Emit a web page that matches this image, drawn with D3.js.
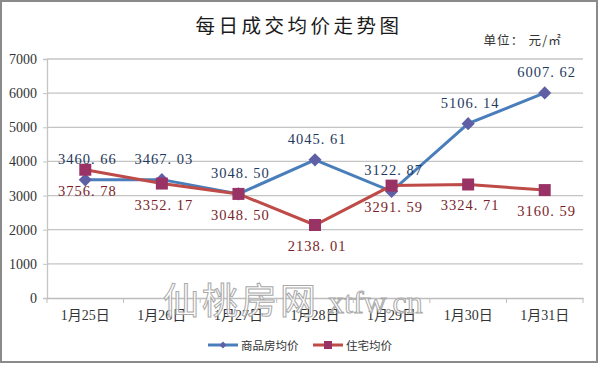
<!DOCTYPE html>
<html>
<head>
<meta charset="utf-8">
<script src="https://cdn.jsdelivr.net/npm/d3@7"></script>
<style>
  body { margin: 0; background: #fff; }
  svg { display: block; }
</style>
</head>
<body>
<div id="chart"></div>
<script>
// data
const dates = ["1月25日", "1月26日", "1月27日", "1月28日", "1月29日", "1月30日", "1月31日"];
const commercial = [3460.66, 3467.03, 3048.50, 4045.61, 3122.87, 5106.14, 6007.62];
const housing = [3756.78, 3352.17, 3048.50, 2138.01, 3291.59, 3324.71, 3160.59];
const yTicks = [0, 1000, 2000, 3000, 4000, 5000, 6000, 7000];
const seriesNames = ["商品房均价", "住宅均价"];

const WIDTH = 600, HEIGHT = 365;
const CJK = "'Noto Sans CJK SC', sans-serif";
const NUM = "'Liberation Serif', 'Noto Sans CJK SC', serif";

const svg = d3.select("#chart")
  .append("svg")
    .attr("width", WIDTH)
    .attr("height", HEIGHT);

// outer frame
svg.append("rect")
  .attr("x", 1).attr("y", 1)
  .attr("width", 596).attr("height", 361)
  .attr("fill", "#fff")
  .attr("stroke", "#8a8a8a")
  .attr("stroke-width", 2);

svg.append("text")
  .attr("x", 299).attr("y", 33)
  .attr("text-anchor", "middle")
  .attr("font-family", CJK)
  .attr("font-size", 19.5)
  .attr("letter-spacing", 3.5)
  .attr("fill", "#1a1a1a")
  .text("每日成交均价走势图");

svg.append("text")
  .attr("x", 562).attr("y", 45)
  .attr("text-anchor", "end")
  .attr("font-family", CJK)
  .attr("font-size", 12.5)
  .attr("letter-spacing", 1.2)
  .attr("fill", "#333")
  .text("单位： 元/㎡");

const x = d3.scaleBand().domain(dates).range([47, 583]);
const y = d3.scaleLinear().domain([0, 7000]).range([298, 59]);

// gridlines
svg.append("g")
  .selectAll("line")
  .data(yTicks.filter(d => d > 0))
  .join("line")
    .attr("x1", 47).attr("x2", 583)
    .attr("y1", d => y(d)).attr("y2", d => y(d))
    .attr("stroke", "#c4c4c4")
    .attr("stroke-width", 1.3);

// y axis
const yAxis = svg.append("g")
  .attr("transform", "translate(47,0)")
  .call(d3.axisLeft(y).tickValues(yTicks).tickFormat(d3.format("d")).tickSize(4).tickPadding(6));
yAxis.select(".domain").attr("stroke", "#c4c4c4").attr("stroke-width", 1.3);
yAxis.selectAll(".tick line").attr("stroke", "#c4c4c4");
yAxis.selectAll("text")
  .attr("font-family", NUM)
  .attr("font-size", 14)
  .attr("fill", "#333");

// x axis with ticks at band edges
const xAxis = svg.append("g")
  .attr("transform", "translate(0,298)")
  .call(d3.axisBottom(x).tickSize(0).tickPadding(12));
xAxis.select(".domain").attr("stroke", "#bdbdbd").attr("stroke-width", 1.3);
xAxis.selectAll("text")
  .attr("font-family", NUM)
  .attr("font-size", 14)
  .attr("fill", "#333");
svg.append("g")
  .selectAll("line")
  .data(dates.concat([null]))
  .join("line")
    .attr("x1", (d, i) => 47 + i * x.step())
    .attr("x2", (d, i) => 47 + i * x.step())
    .attr("y1", 298).attr("y2", 303)
    .attr("stroke", "#bdbdbd");

const cx = d => x(d) + x.bandwidth() / 2;
const line = d3.line().x((d, i) => cx(dates[i])).y(d => y(d));

const BLUE = "#4a7ebb", BLUE_MK = "#5f5fa6", BLUE_TXT = "#1f3a60";
const RED = "#be4b48", RED_MK = "#993366", RED_TXT = "#7a1e2a";

svg.append("path")
  .datum(commercial)
  .attr("d", line)
  .attr("fill", "none")
  .attr("stroke", BLUE)
  .attr("stroke-width", 3);

svg.append("path")
  .datum(housing)
  .attr("d", line)
  .attr("fill", "none")
  .attr("stroke", RED)
  .attr("stroke-width", 3);

svg.append("g")
  .selectAll("path")
  .data(commercial)
  .join("path")
    .attr("d", d3.symbol(d3.symbolDiamond2, 110))
    .attr("transform", (d, i) => `translate(${cx(dates[i])},${y(d)})`)
    .attr("fill", BLUE_MK);

svg.append("g")
  .selectAll("rect")
  .data(housing)
  .join("rect")
    .attr("x", (d, i) => cx(dates[i]) - 6)
    .attr("y", d => y(d) - 6)
    .attr("width", 12).attr("height", 12)
    .attr("fill", RED_MK);

// data labels
svg.append("g")
  .selectAll("text")
  .data(commercial)
  .join("text")
    .attr("x", (d, i) => cx(dates[i]) + 2)
    .attr("y", d => y(d) - 16)
    .attr("text-anchor", "middle")
    .attr("font-family", NUM)
    .attr("font-size", 14.5)
    .attr("letter-spacing", 1)
    .attr("fill", BLUE_TXT)
    .text(d => d.toFixed(2).replace(".", ". "));

svg.append("g")
  .selectAll("text")
  .data(housing)
  .join("text")
    .attr("x", (d, i) => cx(dates[i]) + 2)
    .attr("y", d => y(d) + 26)
    .attr("text-anchor", "middle")
    .attr("font-family", NUM)
    .attr("font-size", 14.5)
    .attr("letter-spacing", 1)
    .attr("fill", RED_TXT)
    .text(d => d.toFixed(2).replace(".", ". "));

// watermark
const wm = svg.append("g")
  .attr("fill", "#fff")
  .attr("fill-opacity", 0.8)
  .attr("stroke", "#a8a8a8")
  .attr("stroke-width", 1);
wm.append("text")
  .attr("x", 163).attr("y", 314)
  .attr("font-family", CJK)
  .attr("font-size", 36)
  .attr("letter-spacing", 3)
  .text("仙桃房网");
wm.append("text")
  .attr("x", 328).attr("y", 313)
  .attr("font-family", "'Liberation Serif', serif")
  .attr("font-size", 32)
  .text("xtfw.cn");

// legend
const legend = svg.append("g");
const legendItems = [
  {name: seriesNames[0], color: BLUE, mk: BLUE_MK, x0: 208, tx: 241, kind: "diamond"},
  {name: seriesNames[1], color: RED, mk: RED_MK, x0: 313, tx: 346, kind: "square"}
];
legendItems.forEach(it => {
  legend.append("line")
    .attr("x1", it.x0).attr("x2", it.x0 + 30)
    .attr("y1", 345).attr("y2", 345)
    .attr("stroke", it.color).attr("stroke-width", 3);
  if (it.kind === "diamond") {
    legend.append("path")
      .attr("d", d3.symbol(d3.symbolDiamond2, 30))
      .attr("transform", `translate(${it.x0 + 15},345)`)
      .attr("fill", it.mk);
  } else {
    legend.append("rect")
      .attr("x", it.x0 + 11).attr("y", 341)
      .attr("width", 8).attr("height", 8)
      .attr("fill", it.mk);
  }
  legend.append("text")
    .attr("x", it.tx).attr("y", 349.5)
    .attr("font-family", CJK)
    .attr("font-size", 11.5)
    .attr("fill", "#333")
    .text(it.name);
});
</script>
</body>
</html>
